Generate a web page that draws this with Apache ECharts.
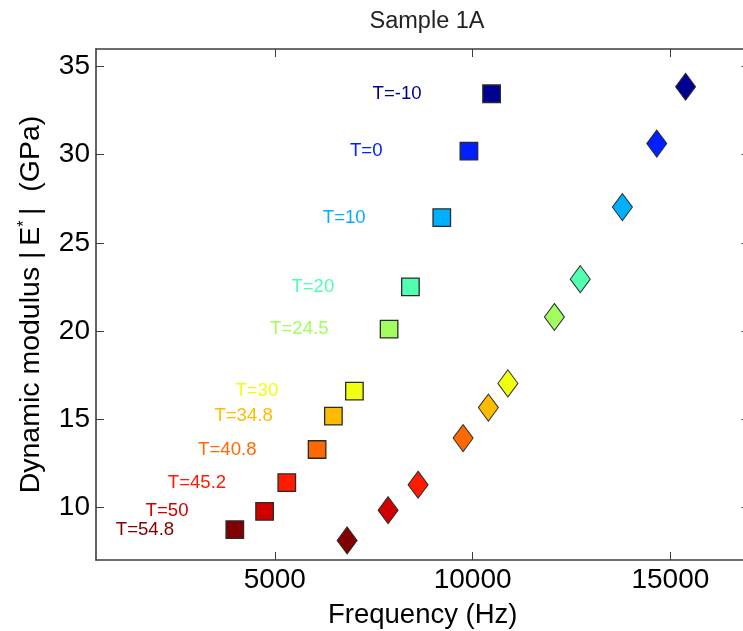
<!DOCTYPE html>
<html>
<head>
<meta charset="utf-8">
<script src="https://cdn.jsdelivr.net/npm/echarts@6/dist/echarts.min.js"></script>
<style>
  html, body { margin: 0; padding: 0; background: #fff; }
  #chart { width: 743px; height: 631px; }
</style>
</head>
<body>
<div id="chart"></div>
<script>
// temperatures (labels) and the two marker sets
var temps = ["-10", "0", "10", "20", "24.5", "30", "34.8", "40.8", "45.2", "50", "54.8"];
var squareFreq = [10480, 9907, 9221, 8428, 7889, 7012, 6481, 6069, 5303, 4742, 3989];
var squareModulus = [33.46, 30.2, 26.43, 22.5, 20.1, 16.58, 15.16, 13.27, 11.39, 9.76, 8.72];
var diamondFreq = [15384, 14656, 13787, 12722, 12068, 10892, 10399, 9760, 8622, 7864, 6828];
var diamondModulus = [33.86, 30.63, 27.03, 22.94, 20.79, 17.02, 15.65, 13.92, 11.27, 9.83, 8.11];
var xTicks = [5000, 10000, 15000];
var yTicks = [10, 15, 20, 25, 30, 35];

var colors = ["#000090", "#0020ff", "#00b0ff", "#50ffb0", "#a0ff5f", "#f0ff10",
  "#ffbb00", "#ff6a00", "#ff1a00", "#d00000", "#800000"];

var font = "'Liberation Sans', Arial, Helvetica, sans-serif";
var axisColor = "#3c3c3c";

var chart = echarts.init(document.getElementById("chart"));

function squareData() {
  var out = [];
  for (var i = 0; i < temps.length; i++) {
    out.push({
      value: [squareFreq[i], squareModulus[i]],
      itemStyle: { color: colors[i] },
      label: { color: colors[i] },
    });
  }
  return out;
}

function diamondData() {
  var out = [];
  for (var i = 0; i < temps.length; i++) {
    out.push({
      value: [diamondFreq[i], diamondModulus[i]],
      itemStyle: { color: colors[i] },
    });
  }
  return out;
}

// box axes (top / right) only carry inward ticks, like matlab's "box on"
function boxAxis(pos, min, max, ticks) {
  return {
    type: "value",
    position: pos,
    min: min,
    max: max,
    axisLine: { show: true, onZero: false, lineStyle: { color: axisColor, width: 1.6 } },
    axisTick: {
      show: true,
      inside: true,
      length: 8,
      customValues: ticks,
      lineStyle: { color: axisColor, width: 1 },
    },
    axisLabel: { show: false },
    splitLine: { show: false },
  };
}

chart.setOption({
  animation: false,
  backgroundColor: "#fff",
  title: {
    text: "Sample 1A",
    left: 422,
    textAlign: "center",
    top: 5,
    textStyle: { fontFamily: font, fontSize: 23.5, fontWeight: "normal", color: "#222" },
  },
  grid: {
    left: 96,
    top: 49,
    width: 653.5,
    height: 511,
    outerBoundsMode: "none",
  },
  xAxis: [
    {
      type: "value",
      position: "bottom",
      min: 480,
      max: 17000,
      name: "Frequency (Hz)",
      nameLocation: "middle",
      nameGap: 41,
      nameTextStyle: { fontFamily: font, fontSize: 27.5, color: "#000" },
      axisLine: { show: true, onZero: false, lineStyle: { color: axisColor, width: 1.6 } },
      axisTick: {
        show: true,
        inside: true,
        length: 8,
        customValues: xTicks,
        lineStyle: { color: axisColor, width: 1 },
      },
      axisLabel: {
        customValues: xTicks,
        margin: 6,
        fontFamily: font,
        fontSize: 28,
        color: "#000",
        formatter: function (v) {
          return String(v);
        },
      },
      splitLine: { show: false },
    },
    boxAxis("top", 480, 17000, xTicks),
  ],
  yAxis: [
    {
      type: "value",
      position: "left",
      min: 7,
      max: 36,
      name: "Dynamic modulus |\u2009E{s|*}\u2009|  (GPa)",
      nameLocation: "middle",
      nameGap: 50,
      nameTextStyle: {
        fontFamily: font,
        fontSize: 28.5,
        color: "#000",
        rich: {
          s: { fontFamily: font, fontSize: 16, color: "#000", verticalAlign: "top" },
        },
      },
      axisLine: { show: true, onZero: false, lineStyle: { color: axisColor, width: 1.6 } },
      axisTick: {
        show: true,
        inside: true,
        length: 8,
        customValues: yTicks,
        lineStyle: { color: axisColor, width: 1 },
      },
      axisLabel: {
        customValues: yTicks,
        margin: 6,
        fontFamily: font,
        fontSize: 28,
        color: "#000",
      },
      splitLine: { show: false },
    },
    boxAxis("right", 7, 36, yTicks),
  ],
  series: [
    {
      name: "squares",
      type: "scatter",
      xAxisIndex: 0,
      yAxisIndex: 0,
      symbol: "rect",
      symbolSize: 17.5,
      itemStyle: { borderColor: "#2a2a2a", borderWidth: 1.3, opacity: 1 },
      label: {
        show: true,
        position: "inside",
        align: "left",
        verticalAlign: "middle",
        offset: [-119, 0],
        fontFamily: font,
        fontSize: 18.6,
        formatter: function (p) {
          return "T=" + temps[p.dataIndex];
        },
      },
      data: squareData(),
      z: 3,
    },
    {
      name: "diamonds",
      type: "scatter",
      xAxisIndex: 0,
      yAxisIndex: 0,
      symbol: "diamond",
      symbolSize: [20, 27],
      itemStyle: { borderColor: "#2a2a2a", borderWidth: 1, opacity: 1 },
      data: diamondData(),
      z: 3,
    },
  ],
});
</script>
</body>
</html>
